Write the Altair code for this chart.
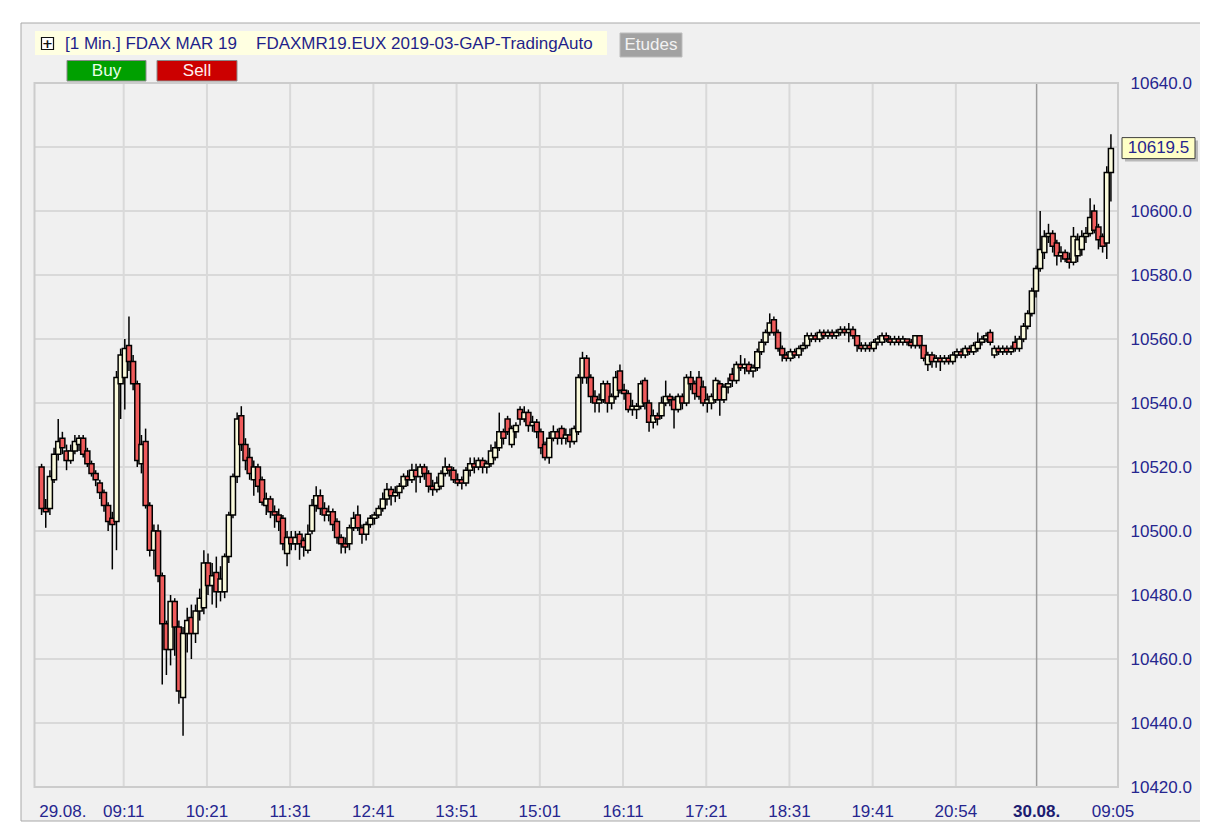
import altair as alt
import pandas as pd

# ---------------- data ----------------
opens = [10520,10507,10507,10516,10524,10529,10525,10522,10525,10527,
         10529,10525,10521,10518,10515,10512,10508,10504,10503,10546,
         10548,10558,10553,10546,10521,10528,10508,10494,10500,10486,
         10471,10463,10478,10470,10448,10468,10473,10468,10475,10476,
         10490,10483,10487,10481,10481,10492,10505,10517,10536,10527,
         10523,10516,10520,10516,10508,10510,10506,10505,10504,10493,
         10498,10496,10499,10497,10494,10500,10508,10511,10507,10505,
         10506,10503,10498,10496,10496,10501,10505,10501,10499,10502,
         10504,10505,10507,10510,10513,10511,10512,10514,10517,10516,
         10519,10517,10520,10518,10514,10513,10514,10518,10520,10519,
         10516,10516,10515,10519,10521,10520,10522,10520,10521,10523,
         10526,10531,10535,10527,10531,10538,10535,10537,10533,10534,
         10531,10527,10523,10529,10531,10532,10529,10530,10528,10531,
         10548,10554,10548,10542,10540,10541,10546,10540,10542,10550,
         10544,10543,10538,10538,10539,10547,10540,10534,10536,10536,
         10540,10542,10541,10538,10542,10540,10548,10546,10548,10545,
         10540,10540,10541,10546,10541,10545,10549,10547,10552,10551,
         10552,10550,10551,10556,10559,10562,10566,10562,10557,10555,
         10554,10556,10555,10557,10558,10560,10561,10560,10562,10561,
         10562,10561,10562,10563,10562,10563,10561,10558,10557,10558,
         10557,10559,10559,10561,10560,10559,10560,10559,10560,10559,
         10558,10561,10558,10552,10555,10553,10554,10553,10554,10553,
         10555,10556,10555,10557,10556,10557,10559,10560,10562,10555,
         10557,10556,10557,10556,10559,10557,10560,10564,10568,10575,
         10582,10587,10592,10593,10590,10586,10587,10585,10584,10586,
         10588,10592,10593,10600,10595,10592,10590,10612]

highs = [10521,10510,10519,10526,10535,10531,10527,10527,10530,10530,
         10530,10526,10522,10519,10516,10513,10509,10506,10550,10557,
         10560,10567,10555,10547,10530,10532,10509,10502,10502,10487,
         10472,10480,10479,10472,10470,10476,10477,10477,10482,10494,
         10493,10490,10492,10489,10493,10506,10518,10537,10539,10529,
         10526,10522,10521,10517,10512,10511,10508,10507,10505,10500,
         10500,10500,10500,10498,10502,10510,10514,10513,10509,10508,
         10507,10504,10499,10498,10502,10506,10508,10502,10503,10505,
         10506,10508,10512,10515,10514,10514,10515,10518,10519,10521,
         10521,10521,10521,10519,10516,10517,10519,10523,10521,10520,
         10518,10517,10520,10523,10523,10523,10523,10522,10527,10528,
         10537,10532,10536,10533,10534,10539,10539,10538,10536,10535,
         10532,10528,10531,10533,10532,10533,10532,10532,10533,10549,
         10556,10555,10549,10544,10543,10547,10547,10543,10550,10552,
         10546,10544,10541,10540,10547,10548,10541,10538,10537,10542,
         10547,10543,10542,10543,10543,10549,10550,10547,10550,10547,
         10543,10543,10548,10547,10546,10548,10551,10553,10555,10554,
         10553,10552,10557,10560,10563,10568,10567,10563,10558,10556,
         10557,10557,10558,10559,10562,10562,10562,10563,10563,10563,
         10563,10563,10564,10564,10565,10564,10561,10559,10559,10559,
         10560,10561,10562,10562,10561,10561,10561,10561,10560,10560,
         10561,10561,10558,10556,10556,10555,10555,10555,10555,10556,
         10557,10557,10558,10558,10559,10562,10561,10562,10563,10558,
         10558,10558,10558,10558,10561,10561,10565,10569,10576,10583,
         10600,10594,10596,10594,10591,10589,10588,10587,10595,10593,
         10594,10595,10604,10602,10596,10593,10614,10624]

lows = [10505,10501,10505,10515,10522,10524,10519,10521,10524,10525,
        10523,10520,10517,10514,10510,10506,10500,10488,10494,10535,
        10538,10550,10544,10520,10518,10507,10492,10488,10484,10452,
        10455,10458,10461,10446,10436,10462,10460,10465,10472,10474,
        10480,10477,10476,10478,10479,10490,10504,10515,10525,10519,
        10516,10511,10512,10508,10505,10504,10501,10500,10494,10489,
        10494,10494,10491,10492,10493,10499,10506,10505,10503,10503,
        10500,10496,10493,10493,10494,10500,10500,10496,10497,10501,
        10502,10504,10506,10508,10508,10509,10510,10513,10514,10515,
        10512,10515,10516,10512,10511,10512,10513,10517,10517,10515,
        10514,10513,10514,10517,10518,10519,10518,10518,10520,10522,
        10525,10527,10530,10526,10529,10533,10534,10531,10531,10529,
        10524,10522,10521,10528,10527,10527,10527,10526,10527,10530,
        10546,10546,10540,10537,10537,10540,10537,10538,10541,10543,
        10541,10537,10536,10535,10538,10538,10531,10532,10533,10535,
        10539,10539,10532,10537,10538,10539,10544,10541,10541,10539,
        10537,10538,10540,10536,10540,10543,10545,10546,10550,10549,
        10549,10548,10550,10555,10558,10561,10561,10556,10553,10553,
        10553,10554,10554,10556,10557,10559,10559,10559,10560,10560,
        10560,10560,10561,10561,10559,10560,10556,10556,10556,10556,
        10556,10558,10558,10559,10558,10558,10558,10558,10558,10557,
        10557,10557,10553,10550,10551,10551,10550,10552,10552,10552,
        10554,10554,10554,10555,10555,10556,10558,10559,10558,10554,
        10555,10555,10555,10555,10556,10556,10559,10563,10567,10573,
        10581,10585,10590,10587,10583,10584,10584,10582,10583,10584,
        10586,10590,10592,10593,10588,10587,10585,10603]

closes = [10507,10506,10517,10524,10528,10526,10522,10525,10528,10529,
          10524,10521,10518,10516,10512,10508,10503,10502,10548,10555,
          10557,10553,10546,10522,10527,10508,10494,10500,10486,10471,
          10463,10478,10470,10450,10468,10472,10468,10475,10479,10490,
          10483,10486,10481,10485,10492,10505,10517,10535,10527,10522,
          10518,10520,10514,10509,10510,10506,10505,10503,10496,10498,
          10496,10498,10496,10495,10499,10508,10511,10507,10505,10506,
          10502,10498,10496,10495,10501,10504,10501,10499,10502,10504,
          10505,10507,10510,10513,10511,10512,10514,10517,10516,10519,
          10517,10520,10518,10514,10513,10515,10518,10520,10519,10516,
          10515,10515,10519,10521,10520,10522,10520,10521,10525,10526,
          10531,10529,10531,10532,10533,10535,10537,10533,10534,10531,
          10526,10523,10529,10531,10529,10529,10530,10528,10532,10548,
          10554,10548,10542,10540,10541,10546,10540,10542,10548,10544,
          10543,10538,10539,10539,10546,10540,10534,10536,10535,10540,
          10542,10541,10538,10542,10540,10548,10546,10543,10542,10540,
          10541,10542,10547,10541,10545,10546,10547,10552,10551,10552,
          10550,10551,10556,10559,10562,10565,10562,10557,10555,10554,
          10556,10555,10557,10558,10561,10561,10560,10562,10561,10562,
          10561,10562,10563,10562,10563,10561,10558,10557,10558,10557,
          10559,10560,10561,10560,10559,10560,10559,10560,10559,10558,
          10561,10558,10554,10555,10553,10554,10553,10554,10553,10555,
          10556,10555,10557,10556,10558,10559,10560,10561,10559,10557,
          10556,10557,10556,10557,10557,10560,10564,10568,10575,10582,
          10588,10592,10593,10589,10586,10587,10585,10584,10592,10591,
          10592,10593,10598,10594,10591,10589,10612,10619.5]

tick_labels = ["29.08.", "09:11", "10:21", "11:31", "12:41", "13:51", "15:01",
               "16:11", "17:21", "18:31", "19:41", "20:54", "30.08.", "09:05"]
tick_slots = [5.6, 20.24, 40.24, 60.24, 80.24, 100.24, 120.24,
              140.24, 160.24, 180.24, 200.24, 220.24, 239.64, 258]

y_grid_values = [10420, 10440, 10460, 10480, 10500, 10520, 10540,
                 10560, 10580, 10600, 10620, 10640]
y_label_values = [10420, 10440, 10460, 10480, 10500, 10520, 10540,
                  10560, 10580, 10600, 10640]

last_price = [10619.5]
last_label = ["10619.5"]

# ---------------- layout ----------------
W, H = 1083.5, 704
FONT = "Liberation Sans"
NAVY = "#26268f"

n = len(closes)
df = pd.DataFrame({
    "slot": [i + 0.5 for i in range(n)],
    "open": opens, "high": highs, "low": lows, "close": closes,
    "dir": ["up" if c >= o else "down" for o, c in zip(opens, closes)],
})
ticks = pd.DataFrame({"slot": tick_slots, "label": tick_labels})
ygrid = pd.DataFrame({"v": y_grid_values})
last = pd.DataFrame({"price": last_price, "label": last_label})
one = pd.DataFrame({"k": [0]})

xs = alt.Scale(domain=[0, 258], nice=False, zero=False)
ys = alt.Scale(domain=[10420, 10640], nice=False, zero=False)

Y_AXIS = alt.Axis(
    orient="right", values=y_label_values, format=".1f", title=None,
    domain=False, ticks=False, grid=False, labelPadding=12,
    labelFont=FONT, labelFontSize=17, labelColor=NAVY, zindex=1)

frame = alt.Chart(one).mark_rect(fill="#f0f0f0", stroke="#a8a8a8", strokeWidth=1).encode(
    x=alt.value(-13.5), x2=alt.value(W + 140), y=alt.value(-60), y2=alt.value(H + 34))

grid_y = alt.Chart(ygrid).mark_rule(color="#d9d9d9", strokeWidth=2).encode(
    y=alt.Y("v:Q", scale=ys, axis=Y_AXIS),
    x=alt.value(0), x2=alt.value(W))

grid_x = alt.Chart(ticks).transform_filter(
    "datum.label != '29.08.' && datum.label != '09:05' && datum.label != '30.08.'"
).mark_rule(color="#d9d9d9", strokeWidth=2).encode(
    x=alt.X("slot:Q", scale=xs, axis=None), y=alt.value(0), y2=alt.value(H))

day_line = alt.Chart(ticks).transform_filter("datum.label == '30.08.'").mark_rule(
    color="#9c9c9c", strokeWidth=1.5).encode(
    x=alt.X("slot:Q", scale=xs, axis=None), y=alt.value(0), y2=alt.value(H))

border = alt.Chart(one).mark_rect(fillOpacity=0, stroke="#cccccc", strokeWidth=2).encode(
    x=alt.value(0), x2=alt.value(W), y=alt.value(0), y2=alt.value(H))

wicks = alt.Chart(df).mark_rule(color="black", strokeWidth=1.5).encode(
    x=alt.X("slot:Q", scale=xs, axis=None),
    y=alt.Y("low:Q", scale=ys, axis=Y_AXIS),
    y2="high:Q")

bodies = alt.Chart(df).mark_bar(size=5, stroke="black", strokeWidth=1.5).encode(
    x=alt.X("slot:Q", scale=xs, axis=None),
    y=alt.Y("open:Q", scale=ys, axis=Y_AXIS),
    y2="close:Q",
    fill=alt.Fill("dir:N", scale=alt.Scale(domain=["up", "down"], range=["#fafadc", "#ef5b5b"]), legend=None))

xlab = alt.Chart(ticks).transform_filter("datum.label != '30.08.'").mark_text(
    font=FONT, fontSize=17, color=NAVY, align="center", baseline="middle").encode(
    x=alt.X("slot:Q", scale=xs, axis=None), y=alt.value(H + 25), text="label:N")

xlab_bold = alt.Chart(ticks).transform_filter("datum.label == '30.08.'").mark_text(
    font=FONT, fontSize=17, fontWeight="bold", color="#1c1c70", align="center", baseline="middle").encode(
    x=alt.X("slot:Q", scale=xs, axis=None), y=alt.value(H + 25), text="label:N")

# header widgets
hdr_box = alt.Chart(one).mark_rect(fill="#ffffe1").encode(
    x=alt.value(0.5), x2=alt.value(572.5), y=alt.value(-52), y2=alt.value(-28))
icon_box = alt.Chart(one).mark_rect(fill="white", stroke="#111111", strokeWidth=1.2).encode(
    x=alt.value(7), x2=alt.value(19), y=alt.value(-45.5), y2=alt.value(-33.5))
icon_plus = alt.Chart(one).mark_text(text="+", font="DejaVu Sans", fontSize=13, fontWeight="bold",
                                     color="#111111", align="center", baseline="middle").encode(
    x=alt.value(13), y=alt.value(-39))
hdr_t1 = alt.Chart(one).mark_text(text="[1 Min.] FDAX MAR 19", font=FONT, fontSize=17, color="#1f1f8a",
                                  align="left", baseline="middle").encode(x=alt.value(30.5), y=alt.value(-39))
hdr_t2 = alt.Chart(one).mark_text(text="FDAXMR19.EUX 2019-03-GAP-TradingAuto", font=FONT, fontSize=17,
                                  color="#1f1f8a", align="left", baseline="middle").encode(
    x=alt.value(221.5), y=alt.value(-39))
etudes_box = alt.Chart(one).mark_rect(fill="#a2a2a2", stroke="#bdbdbd", strokeWidth=1).encode(
    x=alt.value(585.5), x2=alt.value(647.5), y=alt.value(-50), y2=alt.value(-26))
etudes_t = alt.Chart(one).mark_text(text="Etudes", font=FONT, fontSize=17, color="#f2f2f2",
                                    align="center", baseline="middle").encode(x=alt.value(616.5), y=alt.value(-38))
buy_box = alt.Chart(one).mark_rect(fill="#00a000", stroke="#8a8a8a", strokeWidth=1).encode(
    x=alt.value(32.5), x2=alt.value(111.5), y=alt.value(-22.5), y2=alt.value(-2))
buy_t = alt.Chart(one).mark_text(text="Buy", font=FONT, fontSize=17, color="#eaffea",
                                 align="center", baseline="middle").encode(x=alt.value(72), y=alt.value(-12))
sell_box = alt.Chart(one).mark_rect(fill="#cc0000", stroke="#8a8a8a", strokeWidth=1).encode(
    x=alt.value(122.5), x2=alt.value(202.5), y=alt.value(-22.5), y2=alt.value(-2))
sell_t = alt.Chart(one).mark_text(text="Sell", font=FONT, fontSize=17, color="#fff0f0",
                                  align="center", baseline="middle").encode(x=alt.value(162.5), y=alt.value(-12))

# last price marker
mk_shadow = alt.Chart(last).mark_rect(fill="#8c8c8c", opacity=0.55, yOffset=-8, y2Offset=13).encode(
    x=alt.value(W + 7), x2=alt.value(W + 80),
    y=alt.Y("price:Q", scale=ys, axis=Y_AXIS), y2="price:Q")
mk_box = alt.Chart(last).mark_rect(fill="#ffffc6", stroke="#404040", strokeWidth=1, yOffset=-11, y2Offset=10).encode(
    x=alt.value(W + 4), x2=alt.value(W + 77),
    y=alt.Y("price:Q", scale=ys, axis=Y_AXIS), y2="price:Q")
mk_text = alt.Chart(last).mark_text(font=FONT, fontSize=17, color=NAVY, align="center", baseline="middle",
                                    dy=-1).encode(
    x=alt.value(W + 40.5), y=alt.Y("price:Q", scale=ys, axis=Y_AXIS), text="label:N")

chart = alt.layer(
    frame, grid_y, grid_x, day_line, border, wicks, bodies, xlab, xlab_bold,
    hdr_box, icon_box, icon_plus, hdr_t1, hdr_t2, etudes_box, etudes_t,
    buy_box, buy_t, sell_box, sell_t, mk_shadow, mk_box, mk_text
).properties(
    width=W, height=H,
    padding={"left": 26.5, "top": 75, "right": 82, "bottom": 36},
    autosize=alt.AutoSizeParams(type="none"),
    background="white",
).configure_view(strokeWidth=0)

chart.save("out.html", embed_options={"renderer": "svg", "actions": False})
